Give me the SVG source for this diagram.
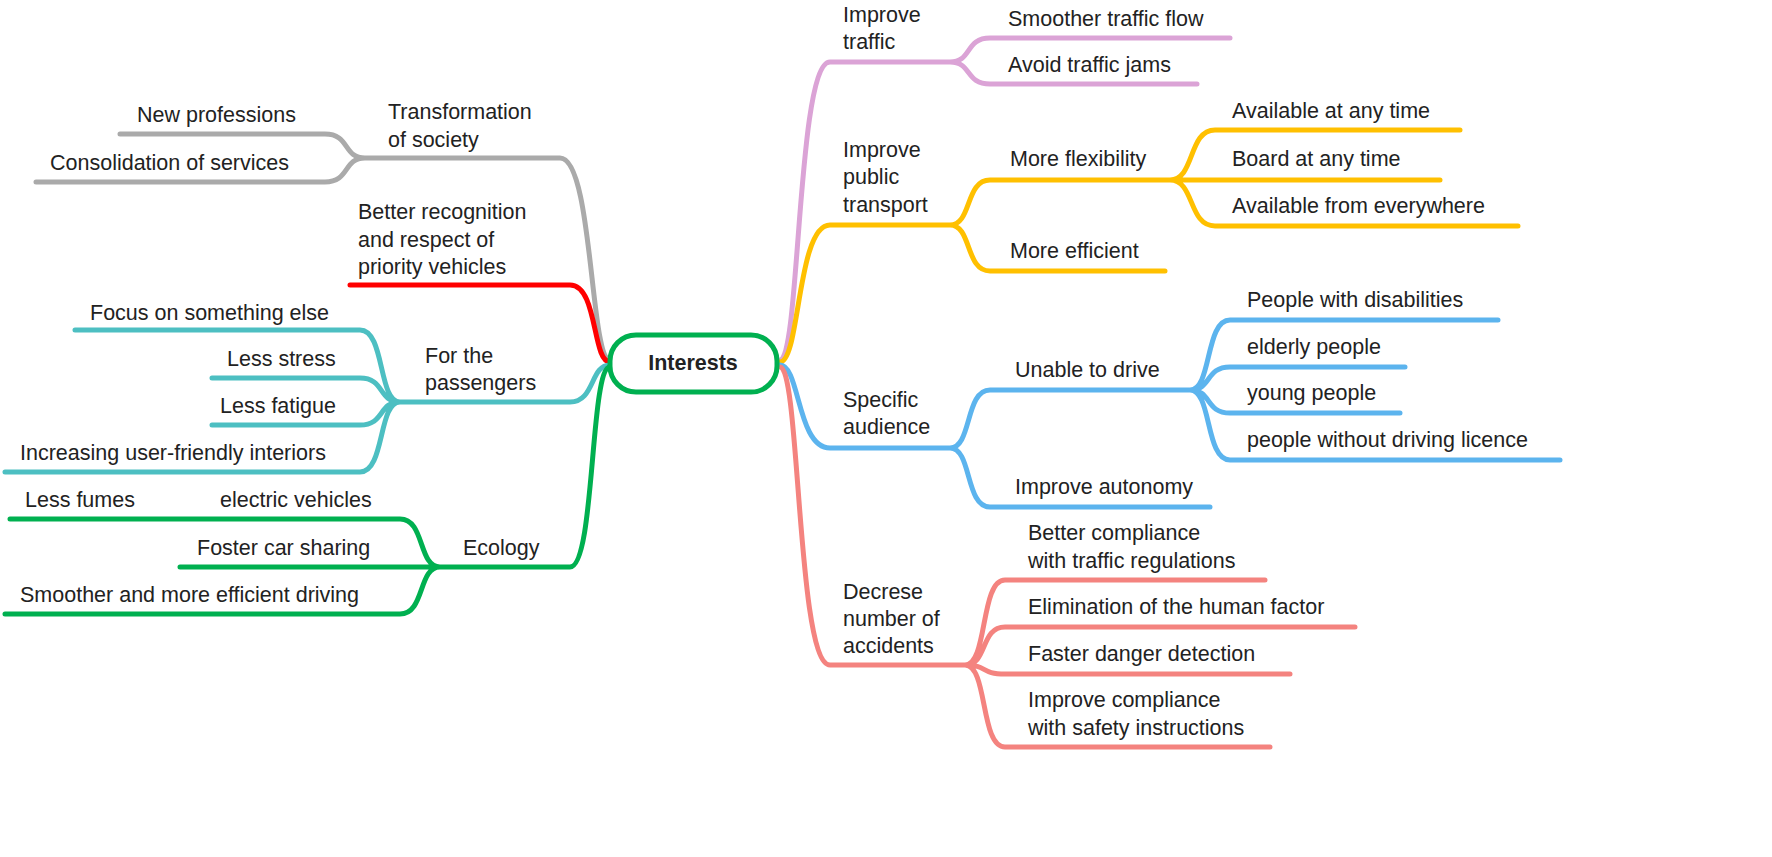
<svg xmlns="http://www.w3.org/2000/svg" width="1772" height="857" viewBox="0 0 1772 857">
<style>
text{font-family:"Liberation Sans",Arial,sans-serif;font-size:21.5px;fill:#222}
path{fill:none;stroke-width:5;stroke-linecap:round}
.pk{stroke:#DBA3D6}.yl{stroke:#FFC000}.bl{stroke:#5CB4EE}.sa{stroke:#F4837F}.gr{stroke:#AAAAAA}.rd{stroke:#FF0000}.tl{stroke:#4DBFC2}.gn{stroke:#00B050}
</style>
<rect width="1772" height="857" fill="#fff"/>
<g id="connectors">
<path class="pk" d="M780,360 C800,360 797,62 830,62 H950 M950,62 C972,62 965,38 990,38 H1230 M950,62 C972,62 965,84 990,84 H1197"/>
<path class="yl" d="M780,362 C800,362 797,225 830,225 H950 M950,225 C972,225 965,180 990,180 H1170 M950,225 C972,225 965,271 990,271 H1165 M1170,180 C1195,180 1188,130 1215,130 H1460 M1170,180 H1440 M1170,180 C1195,180 1188,226 1215,226 H1518"/>
<path class="bl" d="M780,365 C800,365 797,448 830,448 H950 M950,448 C972,448 965,390 990,390 H1190 M950,448 C972,448 965,507 990,507 H1210 M1190,390 C1212,390 1205,320 1230,320 H1498 M1190,390 C1212,390 1205,367 1230,367 H1405 M1190,390 C1212,390 1205,413 1230,413 H1400 M1190,390 C1212,390 1205,460 1230,460 H1560"/>
<path class="sa" d="M780,367 C800,367 797,665 830,665 H965 M965,665 C988,665 980,580 1005,580 H1265 M965,665 C988,665 980,627 1005,627 H1355 M965,665 C988,665 980,674 1005,674 H1290 M965,665 C988,665 980,747 1005,747 H1270"/>
<path class="gr" d="M610,360 C590,360 593,158 560,158 H365 M365,158 C343,158 350,134 325,134 H120 M365,158 C343,158 350,182 325,182 H36"/>
<path class="rd" d="M610,362 C592,362 598,285 570,285 H350"/>
<path class="tl" d="M610,365 C590,365 595,402 570,402 H400 M400,402 C378,402 385,330 360,330 H75 M400,402 C378,402 385,378 360,378 H212 M400,402 C378,402 385,425 360,425 H212 M400,402 C378,402 385,472 360,472 H5"/>
<path class="gn" d="M610,367 C590,367 595,567 570,567 H440 M440,567 C418,567 425,519 400,519 H10 M440,567 H180 M440,567 C418,567 425,614 400,614 H5"/>
</g>
<g id="center"><rect x="610" y="335" width="167" height="57" rx="26" fill="#fff" stroke="#00B050" stroke-width="5"/><text x="693" y="370" text-anchor="middle" font-weight="bold">Interests</text></g>
<g id="improve-traffic"><text x="843" y="22">Improve</text><text x="843" y="49">traffic</text><text x="1008" y="26">Smoother traffic flow</text><text x="1008" y="72">Avoid traffic jams</text></g>
<g id="public-transport"><text x="843" y="157">Improve</text><text x="843" y="184">public</text><text x="843" y="212">transport</text><text x="1010" y="166">More flexibility</text><text x="1010" y="258">More efficient</text><text x="1232" y="118">Available at any time</text><text x="1232" y="166">Board at any time</text><text x="1232" y="213">Available from everywhere</text></g>
<g id="specific-audience"><text x="843" y="407">Specific</text><text x="843" y="434">audience</text><text x="1015" y="377">Unable to drive</text><text x="1015" y="494">Improve autonomy</text><text x="1247" y="307">People with disabilities</text><text x="1247" y="354">elderly people</text><text x="1247" y="400">young people</text><text x="1247" y="447">people without driving licence</text></g>
<g id="accidents"><text x="843" y="599">Decrese</text><text x="843" y="626">number of</text><text x="843" y="653">accidents</text><text x="1028" y="540">Better compliance</text><text x="1028" y="568">with traffic regulations</text><text x="1028" y="614">Elimination of the human factor</text><text x="1028" y="661">Faster danger detection</text><text x="1028" y="707">Improve compliance</text><text x="1028" y="735">with safety instructions</text></g>
<g id="society"><text x="388" y="119">Transformation</text><text x="388" y="147">of society</text><text x="137" y="122">New professions</text><text x="50" y="170">Consolidation of services</text></g>
<g id="priority"><text x="358" y="219">Better recognition</text><text x="358" y="247">and respect of</text><text x="358" y="274">priority vehicles</text></g>
<g id="passengers"><text x="425" y="363">For the</text><text x="425" y="390">passengers</text><text x="90" y="320">Focus on something else</text><text x="227" y="366">Less stress</text><text x="220" y="413">Less fatigue</text><text x="20" y="460">Increasing user-friendly interiors</text></g>
<g id="ecology"><text x="463" y="555">Ecology</text><text x="25" y="507">Less fumes</text><text x="220" y="507">electric vehicles</text><text x="197" y="555">Foster car sharing</text><text x="20" y="602">Smoother and more efficient driving</text></g>
</svg>
